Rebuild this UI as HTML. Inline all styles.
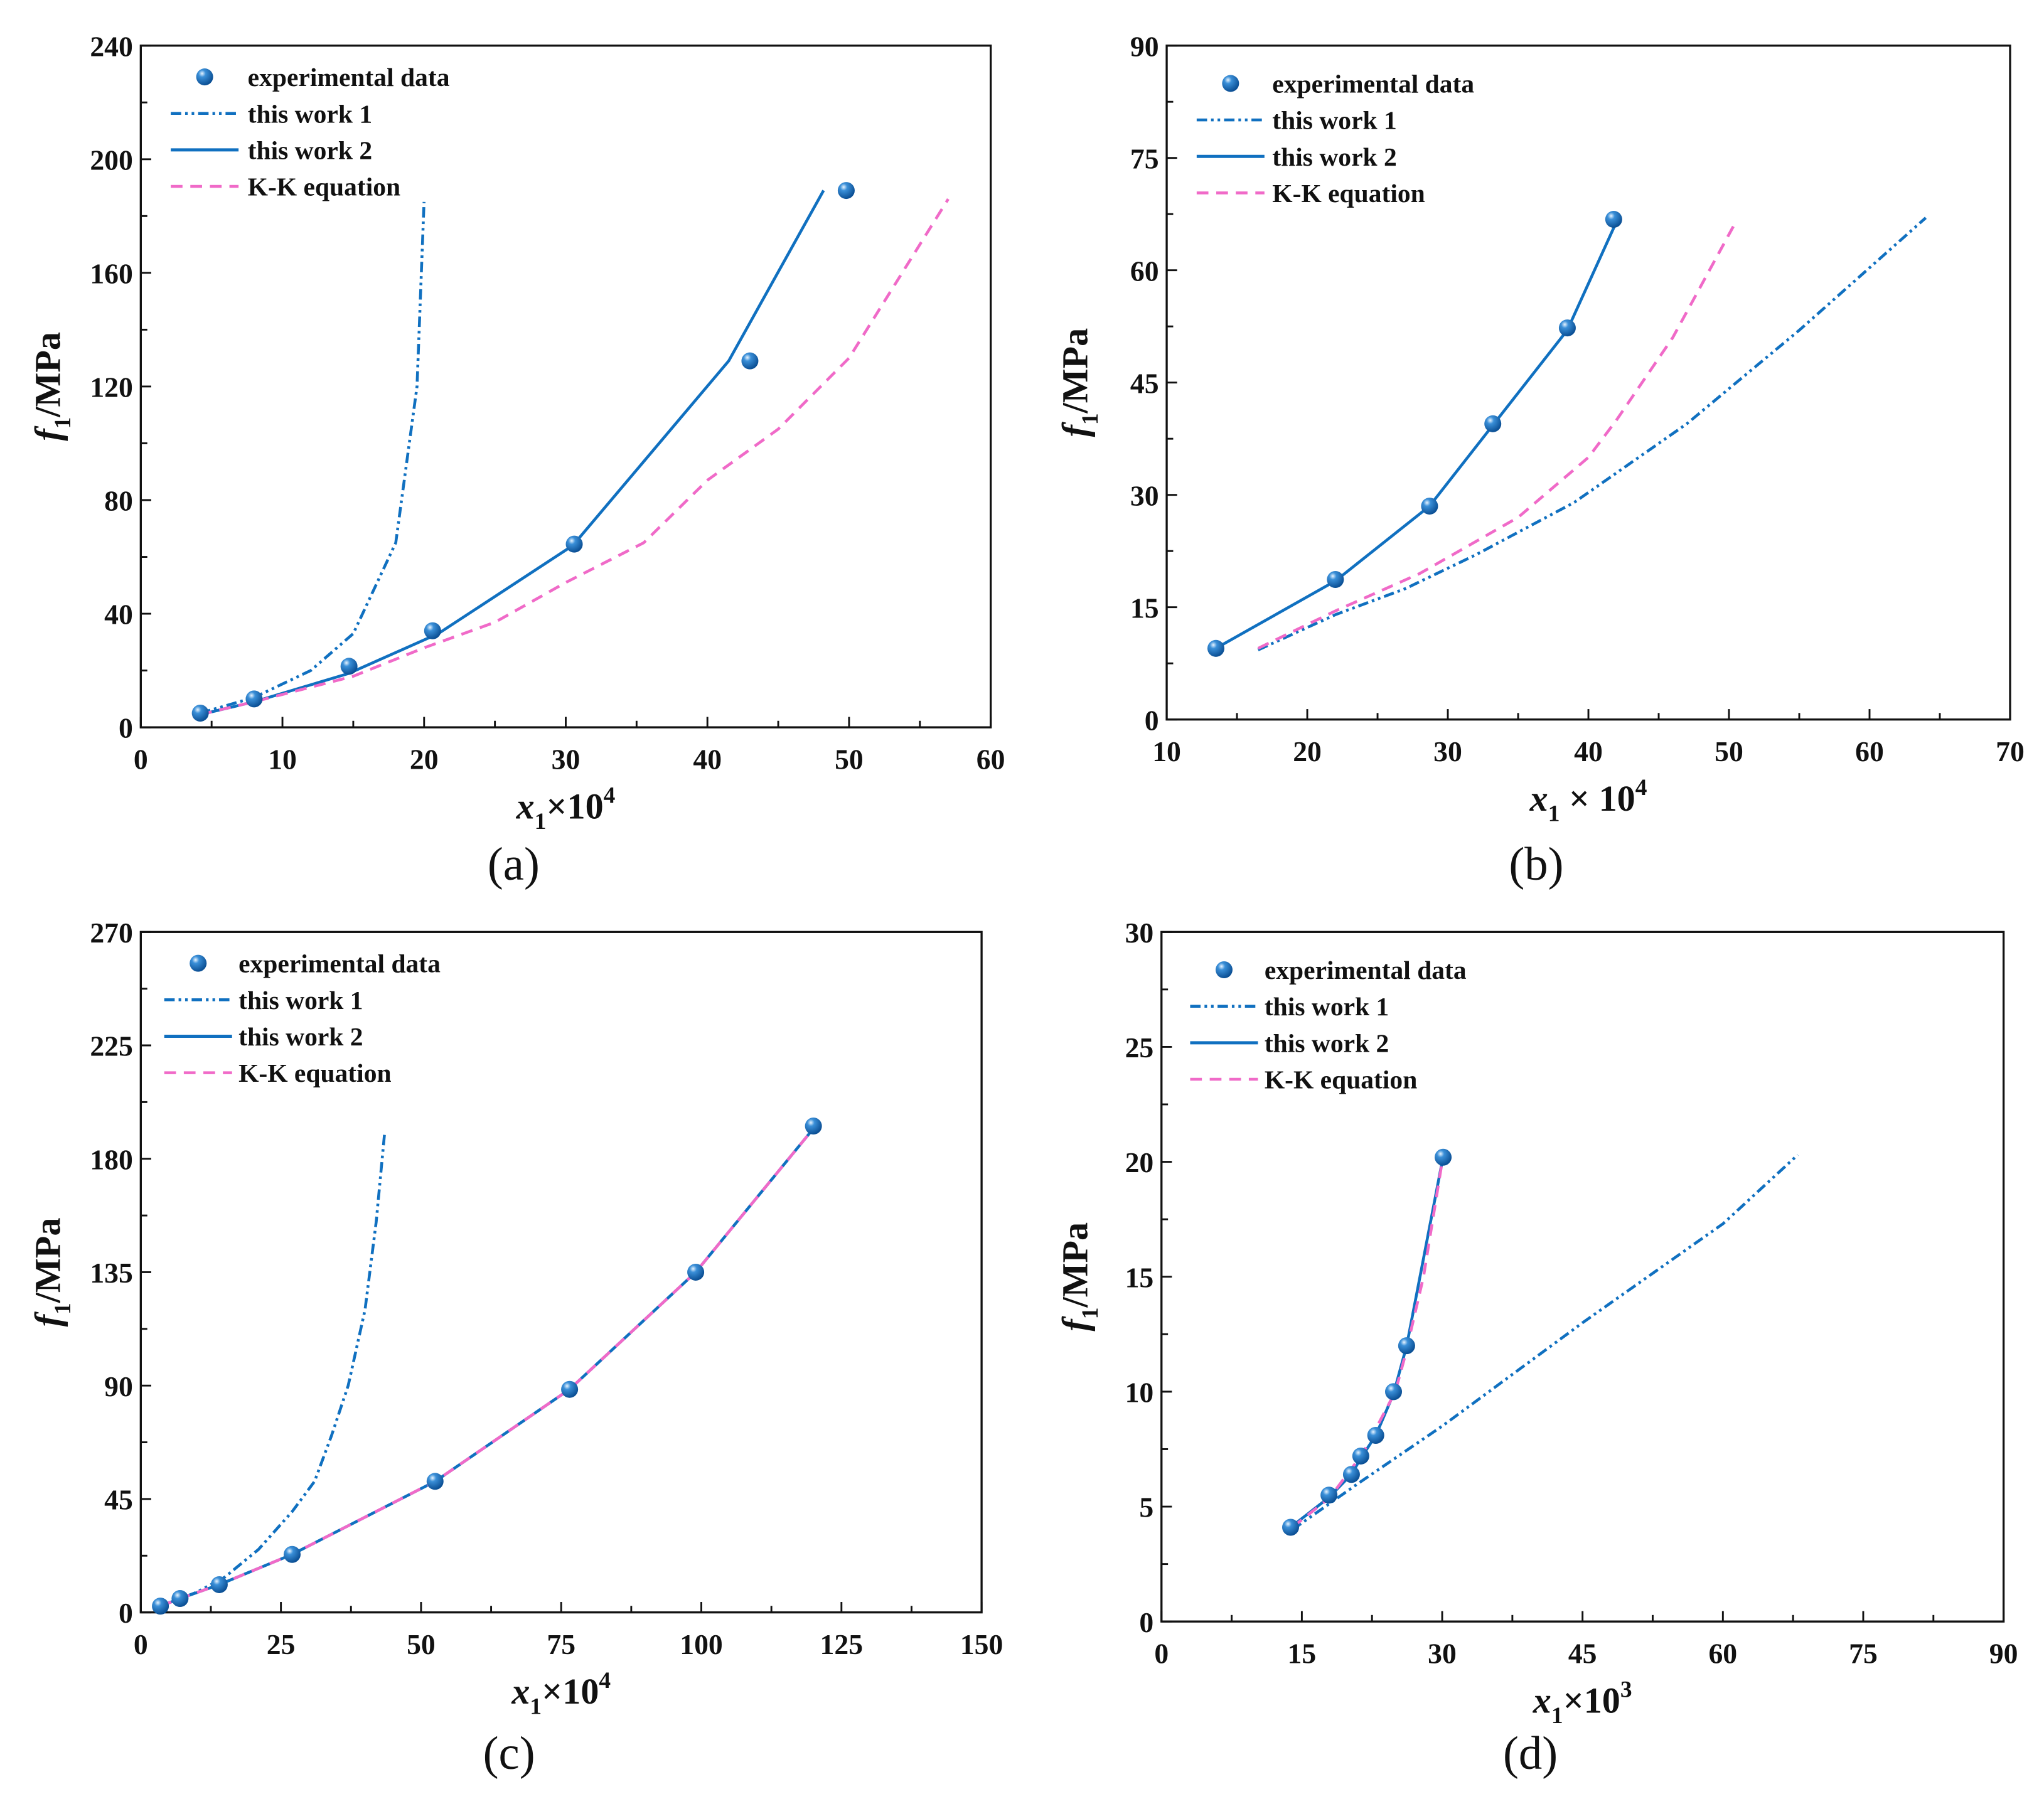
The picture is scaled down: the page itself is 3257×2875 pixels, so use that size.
<!DOCTYPE html>
<html><head><meta charset="utf-8"><style>
html,body{margin:0;padding:0;background:#fff}
svg{display:block}
text{font-family:"Liberation Serif",serif;font-weight:bold;fill:#111}
</style></head><body>
<svg id="s" width="3257" height="2875" viewBox="0 0 1568 1384" preserveAspectRatio="none" xmlns="http://www.w3.org/2000/svg">
<defs><radialGradient id="sph" cx="0.35" cy="0.3" r="0.7"><stop offset="0" stop-color="#e8f4ff"/><stop offset="0.3" stop-color="#3a8fd8"/><stop offset="1" stop-color="#0b4f94"/></radialGradient></defs>
</svg>
<script>
// Panel (a)
const aExpX=[4.2,8,14.7,20.6,30.6,43,49.8];
const aExpY=[5,10,21.5,34,64.5,129,189];
const aW1X=[4.2,8,12,15,18,19.5,20];
const aW1Y=[5,10.5,20,33,65,120,185];
const aW2X=[4.2,8,14.7,21,30.5,41.5,48.2];
const aW2Y=[4.5,9,19,33,64,129,189];
const aKKX=[4.2,8,15,20,25,30,35.5,40,45,50,57];
const aKKY=[4.5,9,18,28,37,51,65,87,105,130,186];
// Panel (b)
const bExpX=[13.5,22,28.7,33.2,38.5,41.8];
const bExpY=[9.5,18.7,28.5,39.5,52.3,66.8];
const bW1X=[16.5,22,27,32,39,47,55,64];
const bW1Y=[9.3,14,17.5,22,29,39.5,52,67];
const bW2X=[13.5,22,28.7,33.2,38.5,42];
const bW2Y=[9.5,18.5,28.5,39.3,52,66.5];
const bKKX=[16.5,22,28,35,40,42,46,50.5];
const bKKY=[9.5,14.5,19.5,27,35,40,51,66.5];
// Panel (c)
const cExpX=[3.5,7,14,27,52.5,76.5,99,120];
const cExpY=[2.5,5.5,11,23,52,88.5,135,193];
const cW1X=[3.5,10,15,21,27,31,34,37,40,42,43.5];
const cW1Y=[2.5,8,14,25,40,52,70,90,120,155,190];
const cW2X=[3.5,7,14,27,52.5,76.5,99,120];
const cW2Y=[2.5,5.5,11,23,52,88.5,135,192];
const cKKX=[3.5,7,14,27,52.5,76.5,99,120];
const cKKY=[2.5,5.5,11,23,52,88.5,135,192];
// Panel (d)
const dExpX=[13.8,17.9,20.3,21.3,22.9,24.8,26.2,30.1];
const dExpY=[4.1,5.5,6.4,7.2,8.1,10,12,20.2];
const dW1X=[14,21,30,45,60,68];
const dW1Y=[4,6,8.5,13,17.3,20.3];
const dW2X=[13.8,17.9,20.3,21.3,22.9,24.8,26.2,30];
const dW2Y=[4.1,5.4,6.4,7.1,8.1,9.9,12,20];
const dKKX=[14,18,21.5,25,26,28,30];
const dKKY=[4.1,5.4,7.3,10,11.5,15,20];

const NS="http://www.w3.org/2000/svg";
const svg=document.getElementById('s');
function el(tag,attrs,parent){const e=document.createElementNS(NS,tag);for(const k in attrs)e.setAttribute(k,attrs[k]);(parent||svg).appendChild(e);return e;}

function panel(cfg){
  const g=el('g',{});
  
  
  const {L,R,T,B,xmin,xmax,ymin,ymax}=cfg;
  const sx=v=>L+(v-xmin)/(xmax-xmin)*(R-L);
  const sy=v=>B-(v-ymin)/(ymax-ymin)*(B-T);
  const frame=el('rect',{x:L,y:T,width:R-L,height:B-T,fill:'none',stroke:'#111','stroke-width':1.6},g);
  
  
  for(let v=xmin;v<=xmax+1e-9;v+=cfg.xstep/2){
    const major=Math.abs(((v-xmin)/cfg.xstep)-Math.round((v-xmin)/cfg.xstep))<1e-6;
    const t=el('line',{x1:sx(v),x2:sx(v),y1:B,y2:B-(major?8:5),stroke:'#111','stroke-width':1.4},g);
    
    
    if(major){const tx=el('text',{x:sx(v),y:B+32,'text-anchor':'middle','font-size':22},g);tx.textContent=String(Math.round(v));
      
      }
  }
  for(let v=ymin;v<=ymax+1e-9;v+=cfg.ystep/2){
    const major=Math.abs(((v-ymin)/cfg.ystep)-Math.round((v-ymin)/cfg.ystep))<1e-6;
    const t=el('line',{x1:L,x2:L+(major?8:5),y1:sy(v),y2:sy(v),stroke:'#111','stroke-width':1.4},g);
    
    
    if(major){const tx=el('text',{x:L-6,y:sy(v)+8,'text-anchor':'end','font-size':22},g);tx.textContent=String(Math.round(v));
      
      }
  }
  function line(xs,ys,color,dash,name){
    const d=xs.map((x,i)=>(i?'L':'M')+sx(x).toFixed(1)+' '+sy(ys[i]).toFixed(1)).join(' ');
    const p=el('path',{d:d,fill:'none',stroke:color,'stroke-width':2.2,'stroke-dasharray':dash},g);
    
    
  }
  line(cfg.w1x,cfg.w1y,'#1070c0','8 3 2 3 2 3','this-work-1-line');
  line(cfg.w2x,cfg.w2y,'#1070c0','none','this-work-2-line');
  line(cfg.kkx,cfg.kky,'#f06ac8','9 6','kk-equation-line');
  cfg.ex.forEach((x,i)=>{
    const c=el('circle',{cx:sx(x),cy:sy(cfg.ey[i]),r:6.5,fill:'url(#sph)'},g);
    
    
  });
  const lg=el('g',{},g);
  
  
  const [lx1,lx2,tx,ry]=cfg.leg;
  const names=['experimental data','this work 1','this work 2','K-K equation'];
  el('circle',{cx:(lx1+lx2)/2,cy:ry,r:6.5,fill:'url(#sph)'},lg);
  el('line',{x1:lx1,x2:lx2,y1:ry+28,y2:ry+28,stroke:'#1070c0','stroke-width':2.2,'stroke-dasharray':'8 3 2 3 2 3'},lg);
  el('line',{x1:lx1,x2:lx2,y1:ry+56,y2:ry+56,stroke:'#1070c0','stroke-width':2.4},lg);
  el('line',{x1:lx1,x2:lx2,y1:ry+84,y2:ry+84,stroke:'#f06ac8','stroke-width':2.2,'stroke-dasharray':'9 6'},lg);
  names.forEach((n,i)=>{const t=el('text',{x:tx,y:ry+28*i+7,'font-size':20},lg);t.textContent=n;
    
    });
  const xt=el('text',{x:(L+R)/2,y:B+70,'text-anchor':'middle','font-size':28},g);
  xt.innerHTML='<tspan font-style="italic">x</tspan><tspan font-size="18" dy="8">1</tspan><tspan dy="-8">'+cfg.xsep+'10</tspan><tspan font-size="18" dy="-12">'+cfg.xexp+'</tspan>';
  
  
  const yt=el('text',{x:0,y:0,'text-anchor':'middle','font-size':28,transform:'translate('+cfg.ytx+','+((T+B)/2)+') rotate(-90)'},g);
  yt.innerHTML='<tspan font-style="italic">f</tspan><tspan font-size="18" dy="8">1</tspan><tspan dy="-8">/MPa</tspan>';
  
  
  const pl=el('text',{x:(L+R)/2-40+cfg.labdx,y:B+130+cfg.labdy,'text-anchor':'middle','font-size':36,style:'font-weight:normal'},g);
  pl.textContent='('+cfg.id+')';
  
  
}
panel({id:'a',L:108,R:760,T:35,B:558,xmin:0,xmax:60,ymin:0,ymax:240,xstep:10,ystep:40,ex:aExpX,ey:aExpY,w1x:aW1X,w1y:aW1Y,w2x:aW2X,w2y:aW2Y,kkx:aKKX,kky:aKKY,leg:[131,183,190,59],xsep:'×',xexp:'4',ytx:46,labdx:0,labdy:-13});
panel({id:'b',L:895,R:1542,T:35,B:552,xmin:10,xmax:70,ymin:0,ymax:90,xstep:10,ystep:15,ex:bExpX,ey:bExpY,w1x:bW1X,w1y:bW1Y,w2x:bW2X,w2y:bW2Y,kkx:bKKX,kky:bKKY,leg:[918,970,976,64],xsep:' × ',xexp:'4',ytx:834,labdx:0,labdy:-7});
panel({id:'c',L:108,R:753,T:715,B:1237,xmin:0,xmax:150,ymin:0,ymax:270,xstep:25,ystep:45,ex:cExpX,ey:cExpY,w1x:cW1X,w1y:cW1Y,w2x:cW2X,w2y:cW2Y,kkx:cKKX,kky:cKKY,leg:[126,178,183,739],xsep:'×',xexp:'4',ytx:46,labdx:0,labdy:-10});
panel({id:'d',L:891,R:1537,T:715,B:1244,xmin:0,xmax:90,ymin:0,ymax:30,xstep:15,ystep:5,ex:dExpX,ey:dExpY,w1x:dW1X,w1y:dW1Y,w2x:dW2X,w2y:dW2Y,kkx:dKKX,kky:dKKY,leg:[913,965,970,744],xsep:'×',xexp:'3',ytx:834,labdx:0,labdy:-17});
</script>
</body></html>
